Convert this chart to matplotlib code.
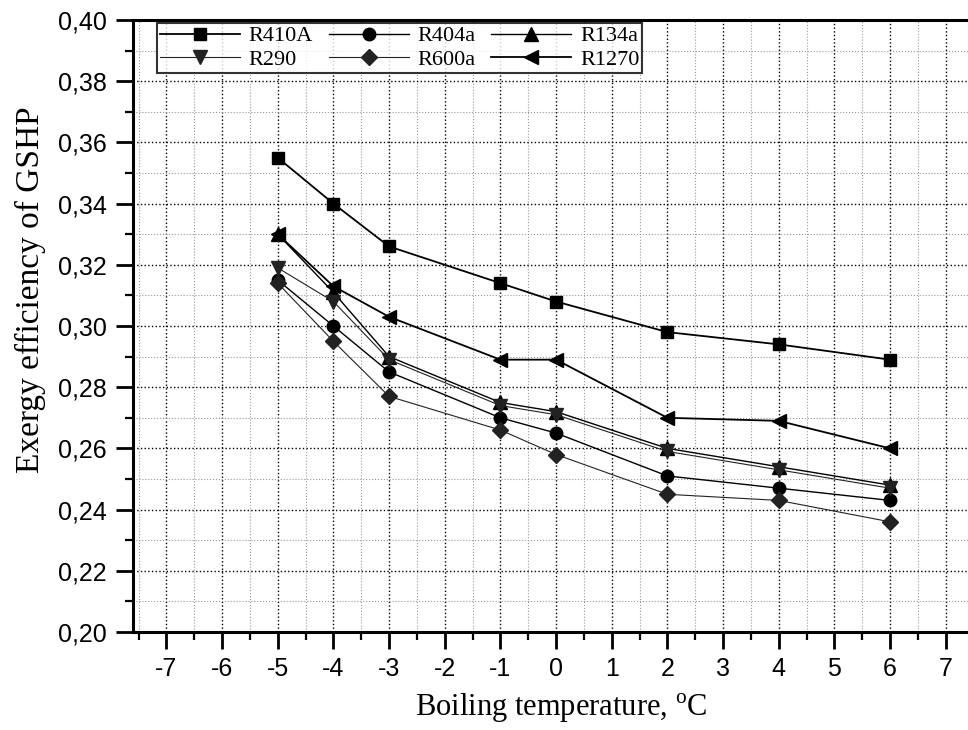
import numpy as np
import matplotlib.pyplot as plt
from matplotlib.ticker import MultipleLocator, FuncFormatter

# data
temps = [-5, -4, -3, -1, 0, 2, 4, 6]
r410a = [0.355, 0.340, 0.326, 0.314, 0.308, 0.298, 0.294, 0.289]
r404a = [0.315, 0.300, 0.285, 0.270, 0.265, 0.251, 0.247, 0.243]
r134a = [0.330, 0.311, 0.290, 0.275, 0.272, 0.260, 0.254, 0.248]
r290 = [0.319, 0.308, 0.289, 0.274, 0.271, 0.259, 0.253, 0.247]
r600a = [0.314, 0.295, 0.277, 0.266, 0.258, 0.245, 0.243, 0.236]
r1270 = [0.330, 0.313, 0.303, 0.289, 0.289, 0.270, 0.269, 0.260]

if __name__ == '__main__':
    fig = plt.figure(figsize=(9.68, 7.3), dpi=100)
    ax = fig.add_axes([133 / 968, 98 / 730, 835 / 968, 612 / 730])

    serif = 'Liberation Serif'
    sans = 'Liberation Sans'

    # series
    h1, = ax.plot(temps, r410a, '-', marker='s', color='black', lw=1.3, ms=9, label='R410A', zorder=5)
    h2, = ax.plot(temps, r404a, '-', marker='o', color='black', lw=1.0, ms=9, label='R404a', zorder=5)
    h3, = ax.plot(temps, r134a, '-', marker='^', color='black', lw=1.0, ms=10, label='R134a', zorder=5)
    h4, = ax.plot(temps, r290, '-', marker='v', color='#222222', lw=0.8, ms=10, label='R290', zorder=5)
    h5, = ax.plot(temps, r600a, '-', marker='D', color='#222222', lw=0.8, ms=8, label='R600a', zorder=5)
    h6, = ax.plot(temps, r1270, '-', marker='<', color='black', lw=1.3, ms=10, label='R1270', zorder=5)

    # axes
    ax.set_xlim(-7.6, 7.4)
    ax.set_ylim(0.20, 0.40)
    ax.xaxis.set_major_locator(MultipleLocator(1))
    ax.xaxis.set_minor_locator(MultipleLocator(0.5))
    ax.yaxis.set_major_locator(MultipleLocator(0.02))
    ax.yaxis.set_minor_locator(MultipleLocator(0.01))
    ax.yaxis.set_major_formatter(FuncFormatter(lambda v, p: f'{v:.2f}'.replace('.', ',')))
    ax.xaxis.set_major_formatter(FuncFormatter(lambda v, p: f'{v:.0f}'))

    ax.tick_params(which='major', direction='out', length=12, width=2)
    ax.tick_params(axis='y', which='major', labelsize=18, pad=7)
    ax.tick_params(axis='x', which='major', labelsize=18, pad=6)
    ax.tick_params(which='minor', direction='out', length=6, width=1.6)
    for lab in ax.get_xticklabels() + ax.get_yticklabels():
        lab.set_family(sans)

    for s in ['left', 'bottom', 'top']:
        ax.spines[s].set_linewidth(2.2)
    ax.spines['right'].set_visible(False)

    # grid
    ax.grid(which='major', linestyle=':', color='black', lw=1.0)
    ax.grid(which='minor', linestyle=':', color='#999999', lw=0.8)
    ax.set_axisbelow(True)

    # labels
    ax.set_xlabel('Boiling temperature, $^{\\mathregular{o}}$C', family=serif, fontsize=22)
    ax.set_ylabel('Exergy efficiency of GSHP', family=serif, fontsize=24)
    ax.xaxis.set_label_coords(0.513, -0.097)
    ax.yaxis.set_label_coords(-0.104, 0.559)

    # legend, filled row by row
    handles = [h1, h4, h2, h5, h3, h6]
    leg = ax.legend(handles=handles, labels=[h.get_label() for h in handles], ncol=3,
                    loc='upper left', bbox_to_anchor=(0.029, 0.995),
                    prop={'family': serif, 'size': 16}, frameon=True, fancybox=False,
                    edgecolor='black', handlelength=3.6, columnspacing=0.7,
                    handletextpad=0.4, borderpad=0.12, labelspacing=0.15, borderaxespad=0)
    leg.get_frame().set_linewidth(1.5)

    fig.savefig('out.png', dpi=100)
